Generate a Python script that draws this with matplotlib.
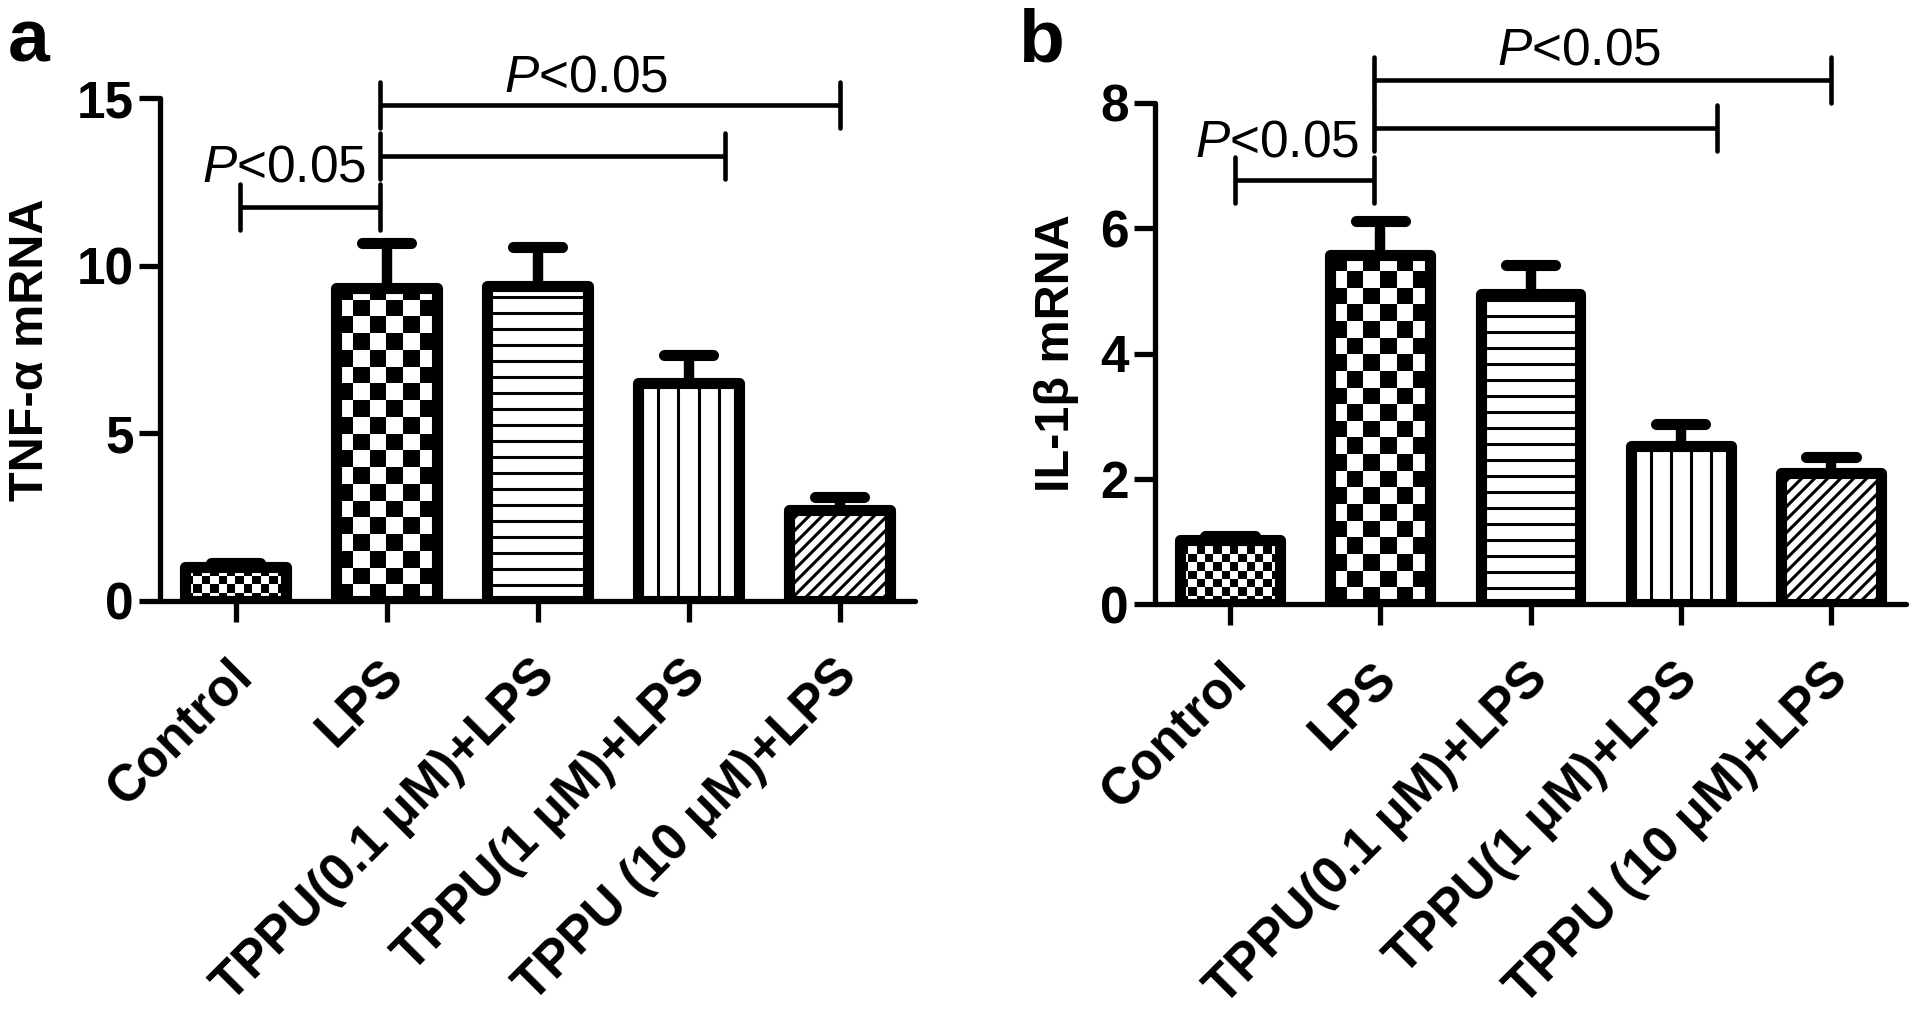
import numpy as np
import matplotlib.pyplot as plt
from matplotlib.collections import LineCollection
from matplotlib.transforms import ScaledTranslation

plt.rcParams['font.family'] = ['Liberation Sans', 'DejaVu Sans']
plt.rcParams['mathtext.fontset'] = 'custom'
plt.rcParams['mathtext.it'] = 'Liberation Sans:italic'
plt.rcParams['mathtext.rm'] = 'Liberation Sans'
plt.rcParams['hatch.linewidth'] = 2.2

groups = ['Control', 'LPS', 'TPPU(0.1 μM)+LPS', 'TPPU(1 μM)+LPS', 'TPPU (10 μM)+LPS']
fills = ['checker_small', 'checker_big', 'horizontal', 'vertical', 'diagonal']

tnf_mean = [1.0, 9.33, 9.4, 6.5, 2.72]
tnf_err = [0.12, 1.36, 1.16, 0.85, 0.38]
il1b_mean = [1.02, 5.57, 4.95, 2.52, 2.09]
il1b_err = [0.07, 0.55, 0.46, 0.36, 0.26]

# significance brackets: (x left, x right, height)
tnf_brackets = [(0.03, 0.96, 11.76), (0.96, 3.245, 13.28), (0.96, 4.0, 14.78)]
il1b_brackets = [(0.03, 0.96, 6.77), (0.96, 3.245, 7.60), (0.96, 4.0, 8.37)]
p_label = '$P$<0.05'
tnf_p_pos = [(0.865, 12.5, 'right'), (2.32, 15.18, 'center')]
il1b_p_pos = [(0.86, 7.14, 'right'), (2.32, 8.62, 'center')]

fig = plt.figure(figsize=(19.2, 10.18), dpi=100)
ax_a = fig.add_axes([160 / 1920, 417 / 1018, 755 / 1920, 503 / 1018])
ax_b = fig.add_axes([1155 / 1920, 414 / 1018, 751 / 1920, 501 / 1018])


def px_per_unit(ax):
    bb = ax.get_position()
    w = bb.width * fig.get_figwidth() * fig.dpi
    h = bb.height * fig.get_figheight() * fig.dpi
    x0, x1 = ax.get_xlim()
    y0, y1 = ax.get_ylim()
    return w / (x1 - x0), h / (y1 - y0)


def add_checker(ax, bar, ncol):
    px_x, px_y = px_per_unit(ax)
    x0, w, h = bar.get_x(), bar.get_width(), bar.get_height()
    sq = w * px_x / ncol
    nrow = int(np.ceil(h * px_y / sq))
    grid = np.add.outer(np.arange(nrow), np.arange(ncol)) % 2
    im = ax.imshow(grid, extent=(x0, x0 + w, 0, nrow * sq / px_y), origin='lower',
                   cmap='gray', vmin=0, vmax=1, interpolation='nearest',
                   aspect='auto', zorder=2.5)
    im.set_clip_path(bar)


def add_lines(ax, bar, kind):
    px_x, px_y = px_per_unit(ax)
    x0, w, h = bar.get_x(), bar.get_width(), bar.get_height()
    segs = []
    if kind == 'horizontal':
        step = 16 / px_y
        for y in np.arange(step, h, step):
            segs.append([(x0, y), (x0 + w, y)])
    elif kind == 'vertical':
        for i in range(1, 5):
            xv = x0 + w * i / 5
            segs.append([(xv, 0), (xv, h)])
    else:
        step = 13 / px_x
        rise = h * px_y / px_x  # horizontal run (data) of a 45 degree line over the bar height
        for xs in np.arange(x0 - h * px_y / px_x, x0 + w, step):
            segs.append([(xs, 0), (xs + h * px_y / px_x, h)])
    lc = LineCollection(segs, colors='black', linewidths=2.2, zorder=2.5)
    ax.add_collection(lc)
    lc.set_clip_path(bar)


def draw_panel(ax, means, errs, ymax, yticks, ylabel, brackets, p_pos, label_x):
    x = np.arange(len(groups))
    ax.set_xlim(-0.5, 4.5)
    ax.set_ylim(0, ymax)
    bars = ax.bar(x, means, width=0.665, color='none', edgecolor='black',
                  linewidth=8, zorder=3)
    for bar, f in zip(bars, fills):
        bar.set_joinstyle('round')
        if f.startswith('checker'):
            add_checker(ax, bar, 12 if f == 'checker_small' else 6)
        else:
            add_lines(ax, bar, f)
    ax.set_xlim(-0.5, 4.5)
    ax.set_ylim(0, ymax)

    cap = 0.165
    for xi, m, e in zip(x, means, errs):
        ax.plot([xi, xi], [m, m + e], color='black', lw=7.5, solid_capstyle='butt', zorder=4)
        ax.plot([xi - cap, xi + cap], [m + e, m + e], color='black', lw=8,
                solid_capstyle='round', zorder=4)

    px_x, px_y = px_per_unit(ax)
    t = 23 / px_y
    for xl, xr, h in brackets:
        ax.plot([xl, xr], [h, h], color='black', lw=3.3, solid_capstyle='butt', clip_on=False)
        for xe in (xl, xr):
            ax.plot([xe, xe], [h - t, h + t], color='black', lw=3.3,
                    solid_capstyle='round', clip_on=False)
    for px, py, ha in p_pos:
        ax.text(px, py, p_label, ha=ha, va='baseline', fontsize=37)

    for side in ('top', 'right'):
        ax.spines[side].set_visible(False)
    for side in ('left', 'bottom'):
        ax.spines[side].set_linewidth(3.8)
        ax.spines[side].set_capstyle('round')
    ax.set_yticks(yticks)
    ax.set_xticks(x)
    ax.tick_params(axis='both', direction='out', length=15, width=3.8, labelsize=37)
    ax.tick_params(axis='y', pad=4)
    ax.tick_params(axis='x', pad=21)
    ax.set_xticklabels(groups, rotation=45, ha='right', va='top', rotation_mode='anchor',
                       fontweight='bold')
    for lab in ax.get_yticklabels():
        lab.set_fontweight('bold')
    shift = ScaledTranslation(-0.08, 0, fig.dpi_scale_trans)
    for lab in ax.get_xticklabels():
        lab.set_transform(lab.get_transform() + shift)
    ax.set_ylabel(ylabel, fontsize=35, fontweight='bold')
    ax.yaxis.set_label_coords(label_x, 0.5)


draw_panel(ax_a, tnf_mean, tnf_err, 15, [0, 5, 10, 15], 'TNF-α mRNA',
           tnf_brackets, tnf_p_pos, -0.142)
draw_panel(ax_b, il1b_mean, il1b_err, 8, [0, 2, 4, 6, 8], 'IL-1β mRNA',
           il1b_brackets, il1b_p_pos, -0.101)

fig.text(8 / 1920, 1 - 62 / 1018, 'a', fontsize=54, fontweight='bold', va='baseline')
fig.text(1018 / 1920, 1 - 62 / 1018, 'b', fontsize=54, fontweight='bold', va='baseline')

fig.savefig('out.png', dpi=100)
